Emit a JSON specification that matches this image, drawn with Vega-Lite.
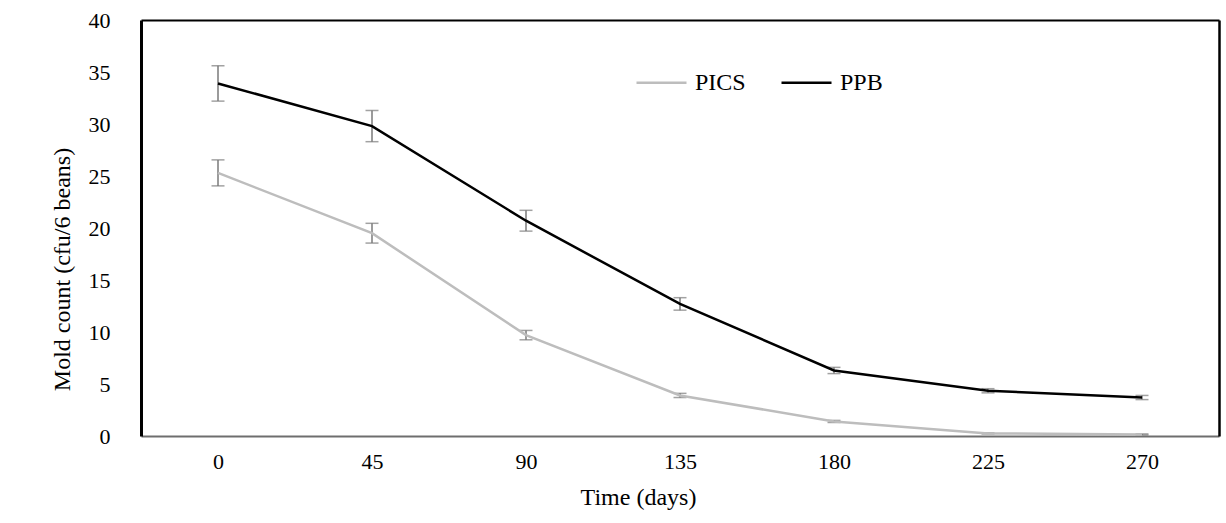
{
  "$schema": "https://vega.github.io/schema/vega-lite/v6.json",
  "width": 1078,
  "height": 416,
  "autosize": "none",
  "padding": {"left": 141, "top": 20, "right": 7, "bottom": 87},
  "background": "white",
  "config": {
    "font": "Liberation Serif",
    "view": {"stroke": null}
  },
  "data": {
    "values": [
      {"day": 0, "series": "PPB", "count": 33.9, "err": 1.7},
      {"day": 45, "series": "PPB", "count": 29.8, "err": 1.5},
      {"day": 90, "series": "PPB", "count": 20.7, "err": 1.0},
      {"day": 135, "series": "PPB", "count": 12.7, "err": 0.6},
      {"day": 180, "series": "PPB", "count": 6.3, "err": 0.3},
      {"day": 225, "series": "PPB", "count": 4.35, "err": 0.2},
      {"day": 270, "series": "PPB", "count": 3.7, "err": 0.2},
      {"day": 0, "series": "PICS", "count": 25.3, "err": 1.25},
      {"day": 45, "series": "PICS", "count": 19.5, "err": 0.95},
      {"day": 90, "series": "PICS", "count": 9.7, "err": 0.45},
      {"day": 135, "series": "PICS", "count": 3.9, "err": 0.2},
      {"day": 180, "series": "PICS", "count": 1.4, "err": 0.1},
      {"day": 225, "series": "PICS", "count": 0.25, "err": 0.05},
      {"day": 270, "series": "PICS", "count": 0.15, "err": 0.05}
    ]
  },
  "resolve": {"axis": {"x": "independent", "y": "independent"}},
  "layer": [
    {
      "mark": {"type": "errorbar", "color": "#7a7a7a", "thickness": 1.5, "ticks": {"size": 13}},
      "encoding": {
        "x": {
          "field": "day",
          "type": "ordinal",
          "scale": {"type": "point", "padding": 0.5},
          "axis": {
            "orient": "top",
            "title": null,
            "labels": false,
            "ticks": false,
            "grid": false,
            "domainColor": "#000000",
            "domainWidth": 2
          }
        },
        "y": {
          "field": "count",
          "type": "quantitative",
          "scale": {"domain": [0, 40]},
          "axis": {
            "orient": "right",
            "title": null,
            "labels": false,
            "ticks": false,
            "grid": false,
            "domainColor": "#000000",
            "domainWidth": 2.5
          }
        },
        "yError": {"field": "err"},
        "detail": {"field": "series", "type": "nominal"}
      }
    },
    {
      "mark": {"type": "line", "strokeWidth": 2.5},
      "encoding": {
        "x": {
          "field": "day",
          "type": "ordinal",
          "scale": {"type": "point", "padding": 0.5},
          "axis": {
            "orient": "bottom",
            "title": "Time (days)",
            "labelAngle": 0,
            "ticks": false,
            "grid": false,
            "domainColor": "#6e6e6e",
            "domainWidth": 2,
            "labelFont": "Liberation Serif",
            "labelFontSize": 22,
            "labelColor": "#000000",
            "labelPadding": 15,
            "titleFont": "Liberation Serif",
            "titleFontSize": 24,
            "titleFontWeight": "normal",
            "titleColor": "#000000",
            "titleX": 497,
            "titleY": 61,
            "titleBaseline": "middle",
            "titleAlign": "center"
          }
        },
        "y": {
          "field": "count",
          "type": "quantitative",
          "scale": {"domain": [0, 40]},
          "axis": {
            "orient": "left",
            "title": "Mold count (cfu/6 beans)",
            "values": [0, 5, 10, 15, 20, 25, 30, 35, 40],
            "ticks": false,
            "grid": false,
            "domainColor": "#000000",
            "domainWidth": 3,
            "labelFont": "Liberation Serif",
            "labelFontSize": 22,
            "labelColor": "#000000",
            "labelPadding": 31,
            "titleFont": "Liberation Serif",
            "titleFontSize": 24,
            "titleFontWeight": "normal",
            "titleColor": "#000000",
            "titleAngle": 270,
            "titleX": -79,
            "titleY": 249,
            "titleBaseline": "middle",
            "titleAlign": "center"
          }
        },
        "color": {
          "field": "series",
          "type": "nominal",
          "scale": {"domain": ["PICS", "PPB"], "range": ["#bdbdbd", "#000000"]},
          "legend": {
            "title": null,
            "orient": "none",
            "direction": "horizontal",
            "legendX": 494,
            "legendY": 36,
            "symbolType": "stroke",
            "symbolSize": 2500,
            "symbolStrokeWidth": 2.5,
            "labelFont": "Liberation Serif",
            "labelFontSize": 24,
            "labelColor": "#000000",
            "labelOffset": 7,
            "columnPadding": 30
          }
        }
      }
    }
  ]
}
